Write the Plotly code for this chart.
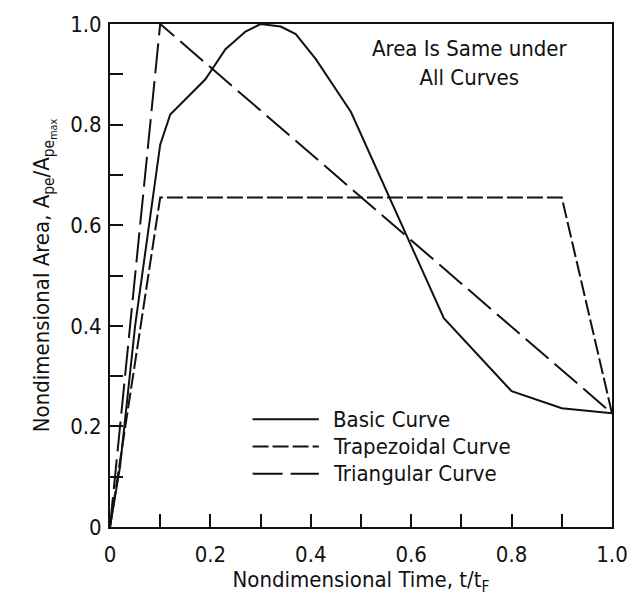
import plotly.graph_objects as go

# Nondimensional time t/tF and area Ape/Ape_max for each curve shape
basic_t = [0.0, 0.02, 0.05, 0.10, 0.12, 0.19, 0.23, 0.27, 0.30, 0.34, 0.37, 0.41, 0.48, 0.665, 0.80, 0.90, 1.0]
basic_a = [0.0, 0.12, 0.40, 0.76, 0.82, 0.89, 0.95, 0.985, 1.0, 0.995, 0.98, 0.93, 0.825, 0.415, 0.27, 0.236, 0.226]

trap_t = [0.0, 0.10, 0.90, 1.0]
trap_a = [0.0, 0.655, 0.655, 0.226]

tri_t = [0.0, 0.10, 1.0]
tri_a = [0.0, 1.0, 0.226]

series_names = ["Basic Curve", "Trapezoidal Curve", "Triangular Curve"]
series_dash = ["solid", "16px,4px", "30px,8px"]

tick_vals = [0.0, 0.2, 0.4, 0.6, 0.8, 1.0]
tick_text = ["0", "0.2", "0.4", "0.6", "0.8", "1.0"]

FONT = "Liberation Sans Narrow, DejaVu Sans Condensed, Arial Narrow, sans-serif"
INK = "#111111"
FS = 22

fig = go.Figure()
for name, xs, ys, dash in zip(series_names,
                              [basic_t, trap_t, tri_t],
                              [basic_a, trap_a, tri_a],
                              series_dash):
    fig.add_trace(go.Scatter(x=xs, y=ys, mode="lines", name=name,
                             line=dict(color=INK, width=2, dash=dash),
                             showlegend=False, cliponaxis=False))

# Legend inside the plot: long sample lines with labels
legend_rows = [0.214, 0.160, 0.106]
for name, dash, yy in zip(series_names, series_dash, legend_rows):
    fig.add_shape(type="line", xref="x", yref="y", x0=0.284, x1=0.416, y0=yy, y1=yy,
                  line=dict(color=INK, width=2, dash=dash))
    fig.add_annotation(x=0.441, y=yy, xref="x", yref="y", text=name, showarrow=False,
                       xanchor="left", yanchor="middle",
                       font=dict(family=FONT, size=FS, color=INK))

fig.add_annotation(x=0.716, y=0.922, xref="x", yref="y",
                   text="Area Is Same under<br>All Curves", showarrow=False,
                   xanchor="center", yanchor="middle", align="center",
                   font=dict(family=FONT, size=FS, color=INK))

axis_common = dict(range=[0, 1], tickvals=tick_vals, ticktext=tick_text,
                   ticks="inside", ticklen=13, tickwidth=1.5, tickcolor=INK,
                   minor=dict(ticks="inside", ticklen=13, tickwidth=1.5,
                              tickcolor=INK, dtick=0.1, showgrid=False),
                   showline=True, linewidth=2, linecolor=INK, mirror=True,
                   showgrid=False, zeroline=False,
                   tickfont=dict(family=FONT, size=FS, color=INK))

fig.update_xaxes(**axis_common, ticklabelstandoff=7,
                 title=dict(text="Nondimensional Time, t/t<sub>F</sub>",
                            font=dict(family=FONT, size=FS, color=INK), standoff=2))
fig.update_yaxes(**axis_common, ticklabelstandoff=2,
                 title=dict(text="Nondimensional Area, A<sub>pe</sub>/A<sub>pe<sub>max</sub></sub>",
                            font=dict(family=FONT, size=FS, color=INK), standoff=14))

fig.update_layout(width=640, height=597,
                  margin=dict(l=110, r=20, t=18, b=66),
                  paper_bgcolor="white", plot_bgcolor="white",
                  showlegend=False)

fig.write_html("out.html")
